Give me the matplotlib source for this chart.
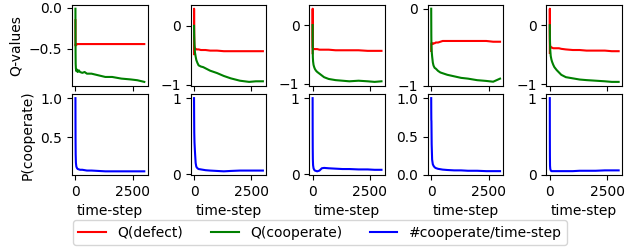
import matplotlib
matplotlib.use("Agg")
import matplotlib.pyplot as plt

steps = [0, 2, 5, 10, 20, 40, 70, 100, 150, 200, 300, 400, 500, 700,
         1000, 1300, 1600, 2000, 2400, 2700, 3000]

# Q(defect) per run
q_defect_1 = [-0.15, -0.40, -0.46, -0.45, -0.44, -0.45, -0.44, -0.44, -0.44, -0.44, -0.44,
              -0.44, -0.44, -0.44, -0.44, -0.44, -0.44, -0.44, -0.44, -0.44, -0.44]
q_defect_2 = [-0.48, 0.29, -0.15, -0.33, -0.37, -0.38, -0.39, -0.40, -0.40, -0.40, -0.41,
              -0.41, -0.41, -0.42, -0.42, -0.43, -0.43, -0.43, -0.43, -0.43, -0.43]
q_defect_3 = [-0.48, 0.28, -0.20, -0.38, -0.40, -0.41, -0.41, -0.41, -0.41, -0.41, -0.42,
              -0.42, -0.42, -0.42, -0.43, -0.43, -0.43, -0.43, -0.44, -0.44, -0.44]
q_defect_4 = [-0.55, -0.50, -0.46, -0.45, -0.45, -0.45, -0.46, -0.45, -0.45, -0.44, -0.44,
              -0.43, -0.42, -0.42, -0.42, -0.42, -0.42, -0.42, -0.42, -0.43, -0.43]
q_defect_5 = [-0.47, 0.28, -0.10, -0.33, -0.37, -0.37, -0.38, -0.38, -0.39, -0.39, -0.39,
              -0.39, -0.40, -0.41, -0.42, -0.42, -0.43, -0.43, -0.43, -0.44, -0.44]

# Q(cooperate) per run
q_coop_1 = [-0.01, -0.30, -0.55, -0.68, -0.74, -0.77, -0.75, -0.78, -0.76, -0.78, -0.79,
            -0.78, -0.80, -0.80, -0.82, -0.84, -0.84, -0.86, -0.87, -0.88, -0.90]
q_coop_2 = [0.0, -0.05, -0.12, -0.20, -0.32, -0.45, -0.52, -0.58, -0.63, -0.67, -0.69,
            -0.70, -0.72, -0.76, -0.80, -0.85, -0.89, -0.93, -0.95, -0.94, -0.94]
q_coop_3 = [0.0, -0.20, -0.40, -0.55, -0.62, -0.68, -0.72, -0.75, -0.78, -0.80, -0.83,
            -0.86, -0.89, -0.92, -0.94, -0.95, -0.96, -0.95, -0.96, -0.97, -0.96]
q_coop_4 = [0.0, -0.15, -0.35, -0.48, -0.55, -0.62, -0.70, -0.74, -0.77, -0.78, -0.81,
            -0.83, -0.84, -0.86, -0.88, -0.90, -0.91, -0.93, -0.94, -0.95, -0.91]
q_coop_5 = [0.0, -0.10, -0.22, -0.31, -0.42, -0.52, -0.58, -0.62, -0.67, -0.71, -0.76,
            -0.80, -0.84, -0.88, -0.90, -0.92, -0.93, -0.94, -0.95, -0.96, -0.96]

# #cooperate/time-step per run
p_coop_1 = [1.0, 0.70, 0.45, 0.28, 0.17, 0.12, 0.10, 0.09, 0.085, 0.08, 0.08,
            0.075, 0.07, 0.07, 0.065, 0.06, 0.06, 0.06, 0.06, 0.06, 0.06]
p_coop_2 = [1.0, 0.90, 0.75, 0.55, 0.42, 0.30, 0.15, 0.10, 0.08, 0.07, 0.065,
            0.06, 0.055, 0.05, 0.045, 0.04, 0.045, 0.05, 0.05, 0.05, 0.05]
p_coop_3 = [1.0, 0.60, 0.35, 0.20, 0.12, 0.08, 0.06, 0.05, 0.045, 0.04, 0.05,
            0.08, 0.085, 0.08, 0.075, 0.07, 0.07, 0.065, 0.065, 0.06, 0.06]
p_coop_4 = [1.0, 0.85, 0.72, 0.70, 0.40, 0.20, 0.14, 0.12, 0.10, 0.09, 0.08,
            0.075, 0.07, 0.065, 0.06, 0.06, 0.055, 0.055, 0.05, 0.05, 0.05]
p_coop_5 = [1.0, 0.50, 0.25, 0.12, 0.08, 0.06, 0.05, 0.05, 0.05, 0.05, 0.05,
            0.05, 0.05, 0.05, 0.05, 0.055, 0.055, 0.055, 0.06, 0.06, 0.06]

q_defect = [q_defect_1, q_defect_2, q_defect_3, q_defect_4, q_defect_5]
q_coop = [q_coop_1, q_coop_2, q_coop_3, q_coop_4, q_coop_5]
p_coop = [p_coop_1, p_coop_2, p_coop_3, p_coop_4, p_coop_5]

# y ticks as they show up in each column
top_yticks = [[0.0, -0.5], [0, -1], [0, -1], [0, -1], [0, -1]]
bottom_yticks = [[0.5, 1.0], [0, 1], [0, 1], [0.0, 0.5, 1.0], [0, 1]]

fig, axes = plt.subplots(2, 5, figsize=(6.4, 2.52), dpi=100)
fig.subplots_adjust(left=0.1125, right=0.972, top=0.98, bottom=0.3056,
                    wspace=0.566, hspace=0.111)

for i in range(5):
    ax = axes[0, i]
    l1, = ax.plot(steps, q_defect[i], color='red', label='Q(defect)')
    l2, = ax.plot(steps, q_coop[i], color='green', label='Q(cooperate)')
    ax.set_yticks(top_yticks[i])
    ax.set_xticks([0, 2500])
    ax.tick_params(labelbottom=False)

    ax = axes[1, i]
    l3, = ax.plot(steps, p_coop[i], color='blue', label='#cooperate/time-step')
    ax.set_yticks(bottom_yticks[i])
    ax.set_xticks([0, 2500])
    ax.set_xlabel('time-step')

axes[0, 0].set_ylabel('Q-values')
axes[1, 0].set_ylabel('P(cooperate)')

fig.legend(handles=[l1, l2, l3], loc='lower center', ncol=3)

fig.savefig('out.png')
